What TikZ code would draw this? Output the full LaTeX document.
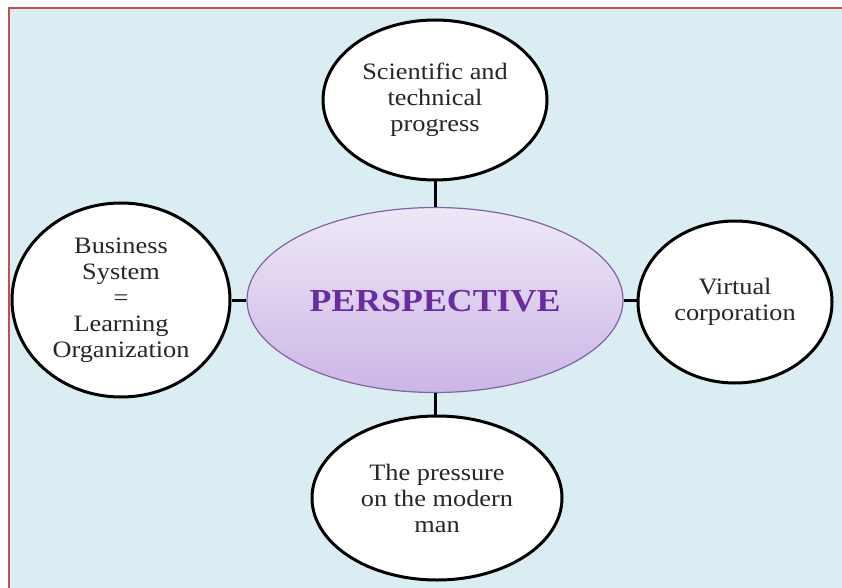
\documentclass[tikz,border=0pt]{standalone}
\usepackage{fontspec}
\setmainfont{Liberation Serif}
\newfontfamily\circfont{Liberation Serif}[FakeStretch=1.12]
\usepackage{xcolor}
\usepackage{tikz}
\usetikzlibrary{shapes.geometric}

\definecolor{paleblue}{HTML}{DAEDF3}
\definecolor{framered}{HTML}{C0504D}
\definecolor{lilactop}{HTML}{EFE8F8}
\definecolor{lilacbot}{HTML}{CBB6E6}
\definecolor{lilacline}{HTML}{8064A2}
\definecolor{perspviolet}{HTML}{6A2C9E}

\tikzset{
  bubble/.style={ellipse, draw=black, line width=3pt, fill=white, align=center,
    inner sep=0pt, text=black!85, font=\circfont\fontsize{23.5}{26}\selectfont},
  hub/.style={ellipse, draw=lilacline, line width=1.2pt, top color=lilactop,
    bottom color=lilacbot, inner sep=0pt},
  link/.style={line width=3pt, black}
}

\begin{document}
\begin{tikzpicture}[x=1pt, y=1pt]
\useasboundingbox (0,0) rectangle (842,587);

% Cadru
\fill[paleblue] (9,-5) rectangle (850,579);
\draw[framered, line width=2.8pt] (9,-5) -- (9,579) -- (850,579);

% Centru
\node[hub, minimum width=376, minimum height=185] (persp) at (435,287) {};
\node[text=perspviolet, font=\circfont\bfseries\fontsize{32}{36}\selectfont] (persptext) at (435,286) {PERSPECTIVE};

% Cercuri
\node[bubble, minimum width=224, minimum height=160] (sci) at (435,487) {Scientific and\\technical\\progress};
\node[bubble, minimum width=218, minimum height=194] (biz) at (121,287) {Business\\System\\=\\Learning\\Organization};
\node[bubble, minimum width=194, minimum height=162] (virt) at (735,285) {Virtual\\corporation};
\node[bubble, minimum width=250, minimum height=164] (press) at (437,89) {The pressure\\on the modern\\man};

% Legaturi
\draw[link] (sci.south) -- (persp.north);
\draw[link] (biz.east) -- (persp.west);
\draw[link] (persp.east) -- (virt.west |- persp.east);
\draw[link] (persp.south) -- (press.north -| persp.south);

\end{tikzpicture}
\end{document}
